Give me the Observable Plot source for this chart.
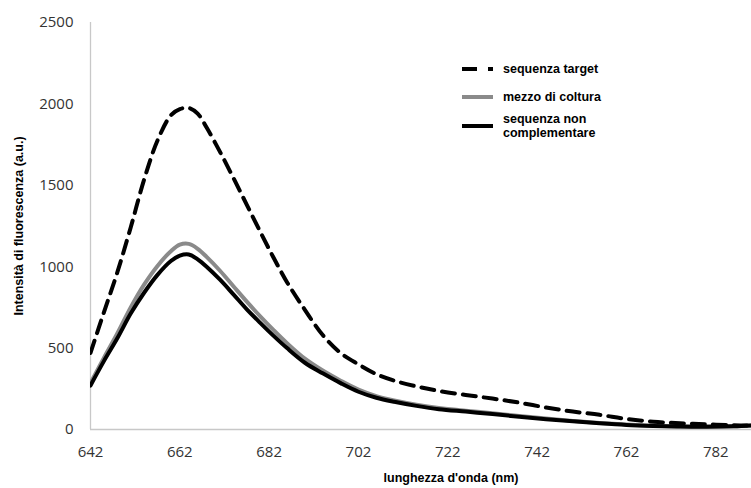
<!DOCTYPE html>
<html>
<head>
<meta charset="utf-8">
<script src="https://cdn.jsdelivr.net/npm/d3@7"></script>
<script src="https://cdn.jsdelivr.net/npm/@observablehq/plot@0.6"></script>
<style>
  html, body { margin: 0; padding: 0; background: #fff; }
  #wrap { position: relative; width: 751px; height: 488px; overflow: hidden; }
  #legend { position: absolute; left: 0; top: 0; pointer-events: none; }
</style>
</head>
<body>
<div id="wrap"></div>
<script>
// wavelengths (nm)
const wavelength = [642, 645, 648, 651, 654, 657, 660, 662, 664, 666, 668, 671, 674, 677, 680, 683, 686, 690, 694, 698, 702, 706, 710, 715, 720, 726, 732, 738, 744, 750, 756, 762, 768, 774, 780, 786, 790];
// series values (a.u.)
const sequenzaTarget = [470, 720, 965, 1241, 1535, 1775, 1930, 1968, 1975, 1940, 1855, 1705, 1545, 1380, 1215, 1055, 905, 735, 580, 470, 400, 340, 300, 265, 237, 212, 190, 165, 135, 110, 90, 65, 48, 38, 32, 26, 24];
const mezzoDiColtura = [285, 440, 590, 750, 890, 1005, 1095, 1135, 1140, 1110, 1060, 975, 880, 785, 695, 610, 530, 435, 362, 300, 245, 205, 178, 152, 132, 115, 100, 83, 67, 53, 40, 30, 23, 19, 18, 20, 25];
const sequenzaNonComplementare = [270, 420, 560, 712, 840, 950, 1035, 1068, 1075, 1045, 1000, 920, 830, 738, 655, 575, 500, 410, 345, 285, 232, 195, 170, 145, 125, 110, 95, 78, 63, 50, 38, 28, 22, 18, 17, 20, 25];
const seriesNames = ["sequenza target", "mezzo di coltura", "sequenza non complementare"];
const xTicks = [642, 662, 682, 702, 722, 742, 762, 782];
const yTicks = [0, 500, 1000, 1500, 2000, 2500];
const xTitle = "lunghezza d'onda (nm)";
const yTitle = "Intensità di fluorescenza (a.u.)";

const toRows = (vals) => wavelength.map((w, i) => ({x: w, y: vals[i]}));
const target = toRows(sequenzaTarget);
const mezzo = toRows(mezzoDiColtura);
const nonComp = toRows(sequenzaNonComplementare);

const W = 751, H = 488;
const chart = Plot.plot({
  width: W,
  height: H,
  marginLeft: 90,
  marginRight: 0,
  marginTop: 22,
  marginBottom: 59,
  style: {fontFamily: "'Open Sans', sans-serif", fontSize: "15px", color: "#333", background: "#fff"},
  x: {domain: [642, 790], ticks: xTicks, label: null},
  y: {domain: [0, 2500], ticks: yTicks, label: null},
  marks: [
    Plot.axisX({ticks: xTicks, tickSize: 0, tickPadding: 17, label: null, tickFormat: d => String(d)}),
    Plot.axisY({ticks: yTicks, tickSize: 0, tickPadding: 17, label: null, tickFormat: d => String(d)}),
    Plot.ruleY([0], {stroke: "#c8c8c8", strokeWidth: 1.3}),
    Plot.ruleX([642], {stroke: "#c8c8c8", strokeWidth: 1.3}),
    Plot.line(mezzo, {x: "x", y: "y", stroke: "#8a8a8a", strokeWidth: 4, curve: "catmull-rom", clip: true}),
    Plot.line(nonComp, {x: "x", y: "y", stroke: "#000", strokeWidth: 4, curve: "catmull-rom", clip: true}),
    Plot.line(target, {x: "x", y: "y", stroke: "#000", strokeWidth: 4, strokeDasharray: "13,8", curve: "catmull-rom", clip: true}),
    Plot.text([xTitle], {frameAnchor: "bottom", lineAnchor: "middle", dx: 30, dy: 48, text: d => d,
      fontFamily: "'Liberation Sans', Arial, sans-serif", fontWeight: "bold", fontSize: 12.5, fill: "#000"}),
    Plot.text([yTitle], {frameAnchor: "left", rotate: -90, textAnchor: "middle", lineAnchor: "middle", dx: -72, text: d => d,
      fontFamily: "'Liberation Sans', Arial, sans-serif", fontWeight: "bold", fontSize: 12.5, fill: "#000"})
  ]
});
const wrap = document.getElementById("wrap");
wrap.appendChild(chart);

// legend overlay
const leg = d3.select(wrap).append("svg").attr("id", "legend").attr("width", W).attr("height", H)
  .style("font-family", "'Liberation Sans', Arial, sans-serif").style("font-weight", "bold").style("font-size", "12.5px");
const items = [
  {name: seriesNames[0], stroke: "#000", dash: "15,11", y: 69, lines: ["sequenza target"]},
  {name: seriesNames[1], stroke: "#8a8a8a", dash: null, y: 97, lines: ["mezzo di coltura"]},
  {name: seriesNames[2], stroke: "#000", dash: null, y: 126, lines: ["sequenza non", "complementare"]}
];
items.forEach(it => {
  leg.append("line").attr("x1", 462).attr("x2", 493).attr("y1", it.y).attr("y2", it.y)
    .attr("stroke", it.stroke).attr("stroke-width", 4).attr("stroke-dasharray", it.dash);
  const t = leg.append("text").attr("x", 503).attr("y", it.y - (it.lines.length - 1) * 7).attr("dy", "0.35em").attr("fill", "#000");
  it.lines.forEach((l, i) => t.append("tspan").attr("x", 503).attr("dy", i === 0 ? "0.35em" : "14").text(l));
});
</script>
</body>
</html>
